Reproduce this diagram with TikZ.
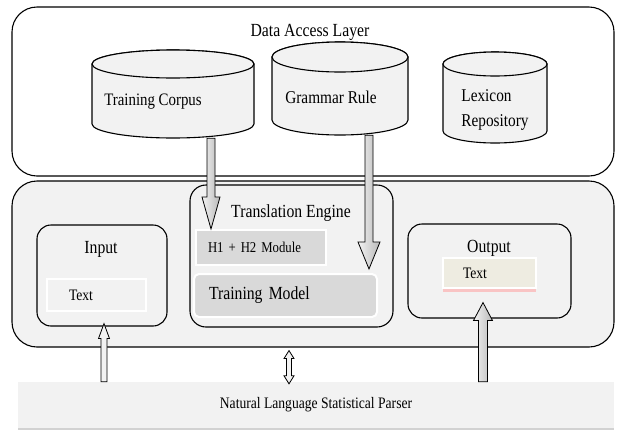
\documentclass[tikz,border=0pt]{standalone}
\usepackage{fontspec}
\setmainfont{Liberation Serif}[FakeStretch=0.85]
\usetikzlibrary{calc,shadows}
\definecolor{panel}{HTML}{F2F2F2}
\definecolor{module}{HTML}{D9D9D9}
\definecolor{cream}{HTML}{EEECE1}
% block arrow from #2 to #3: shaft half width #4, head half width #5, head length #6
\newcommand{\fatarrow}[6][fat]{%
  \coordinate (fa-base) at ($(#3)!#6!(#2)$);
  \draw[#1] ($(#2)!#4!90:(#3)$) -- ($(fa-base)!#4!90:(#3)$) -- ($(fa-base)!#5!90:(#3)$) -- (#3)
    -- ($(fa-base)!#5!-90:(#3)$) -- ($(fa-base)!#4!-90:(#3)$) -- ($(#2)!#4!-90:(#3)$) -- cycle;}
% same, with a head at both ends
\newcommand{\fatdouble}[6][fat]{%
  \coordinate (fa-a) at ($(#2)!#6!(#3)$);
  \coordinate (fa-b) at ($(#3)!#6!(#2)$);
  \draw[#1] (#2) -- ($(fa-a)!#5!90:(#3)$) -- ($(fa-a)!#4!90:(#3)$) -- ($(fa-b)!#4!90:(#3)$)
    -- ($(fa-b)!#5!90:(#3)$) -- (#3) -- ($(fa-b)!#5!-90:(#3)$) -- ($(fa-b)!#4!-90:(#3)$)
    -- ($(fa-a)!#4!-90:(#3)$) -- ($(fa-a)!#5!-90:(#3)$) -- cycle;}
% database drum: name, centre, width, height, cap half height, node options
\newcommand{\drum}[6]{%
  \draw[drum] ($(#2)+(-#3/2,-#4/2+#5)$) -- ($(#2)+(-#3/2,#4/2-#5)$)
    arc[start angle=180, end angle=0, x radius=#3/2, y radius=#5]
    -- ($(#2)+(#3/2,-#4/2+#5)$)
    arc[start angle=0, end angle=-180, x radius=#3/2, y radius=#5] -- cycle;
  \draw[drum] ($(#2)+(0,-#4/2+#5)$) ellipse[x radius=#3/2, y radius=#5];
  \node[minimum width=#3, minimum height=#4, inner sep=0pt, #6] (#1) at (#2) {};}
\begin{document}
\begin{tikzpicture}[x=1pt,y=-1pt,
		box/.style={draw, line width=1.1pt, rounded corners=#1},
		box/.default=14pt,
		title/.style={font=\fontsize{18.5}{21}\selectfont},
		drum/.style={draw, line width=1.1pt, fill=panel},
		textbox/.style={draw=white, line width=2pt, fill=panel, align=left, font=\fontsize{16}{18}\selectfont},
		module/.style={draw=white, line width=2pt, fill=module, align=left},
		fat/.style={draw, line width=0.8pt, left color=gray!10, right color=gray!55},
		hollow/.style={draw, line width=0.8pt, fill=panel}]
	\useasboundingbox (0,0) rectangle (619,432);
	
	\node[box=25pt, fill=white, minimum width=602, minimum height=169] (dal) at (313,91.5) {};
	\node[title] (dal-t) at (310,32) {Data Access Layer};
	\node[box=25pt, fill=panel, minimum width=602, minimum height=166] (core) at (313,264) {};
	
	\drum{tc}{173,94}{162}{88}{14}{label={[title, font=\fontsize{17.5}{20}\selectfont, xshift=-20pt, yshift=-8pt]center:Training Corpus}}
	\drum{gr}{340,88.5}{136}{93}{15}{label={[title, font=\fontsize{18}{20}\selectfont, xshift=-9pt, yshift=-9pt]center:Grammar Rule}}
	\drum{lex}{495,97.5}{104}{91}{12}{label={[title, align=left, font=\fontsize{18}{25}\selectfont, yshift=-12pt]center:Lexicon\\Repository}}
	
	\node[box, fill=panel, minimum width=130, minimum height=101] (inp) at (102,275.5) {};
	\node[title] (inp-t) at (101,249) {Input};
	\node[textbox, minimum height=32, text width=55, inner xsep=22] (inp-txt) at (96.5,295) {Text};
	
	\node[box=16pt, fill=panel, minimum width=203, minimum height=142] (eng) at (291.5,256) {};
	\node[title] (eng-t) at (291,213) {Translation Engine};
	\node[module, minimum height=35, text width=106, inner xsep=12, font=\fontsize{15}{17}\selectfont] (h12) at (261,247.5) {H1 + H2 Module};
	\node[module, rounded corners=5pt, minimum height=43, text width=153, inner xsep=15, font=\fontsize{18.5}{21}\selectfont] (tm) at (285.5,295.5) {Training Model};
	
	\node[box, fill=panel, minimum width=163, minimum height=94] (out) at (489.5,271) {};
	\node[title] (out-t) at (489,248) {Output};
	\node[textbox, fill=cream, drop shadow={shadow xshift=0pt, shadow yshift=-4pt, fill=red!35, opacity=0.6}, minimum height=30, text width=53, inner xsep=20] (out-txt) at (489.5,273) {Text};
	
	\node[fill=panel, drop shadow={shadow xshift=0pt, shadow yshift=-2pt, fill=gray!70}, minimum width=596, minimum height=46, font=\fontsize{16}{18}\selectfont] (ps) at (316,405) {Natural Language Statistical Parser};
	
	\coordinate (tc-out) at ($(tc.south)+(38,0)$);
	\coordinate (tc-in) at (tc-out |- h12.north);
	\fatarrow{tc-out}{tc-in}{4pt}{9pt}{32pt}
	\coordinate (gr-out) at ($(gr.south)+(29,0)$);
	\coordinate (gr-in) at ($(gr-out |- tm.north)+(0,-4)$);
	\fatarrow{gr-out}{gr-in}{4pt}{11pt}{27pt}
	\coordinate (in-tip) at ($(inp.south)+(2,-3)$);
	\coordinate (in-foot) at (ps.north -| in-tip);
	\fatarrow[hollow]{in-foot}{in-tip}{3pt}{5.5pt}{15pt}
	\coordinate (out-tip) at ($(out.south)+(-6.5,-16)$);
	\coordinate (out-foot) at (ps.north -| out-tip);
	\fatarrow{out-foot}{out-tip}{4.5pt}{9.5pt}{18pt}
	\coordinate (dbl-a) at ($(core.south)+(-24,3)$);
	\coordinate (dbl-b) at ($(ps.north)+(-27,2)$);
	\fatdouble[hollow]{dbl-a}{dbl-b}{2.5pt}{5pt}{8pt}
\end{tikzpicture}
\end{document}
